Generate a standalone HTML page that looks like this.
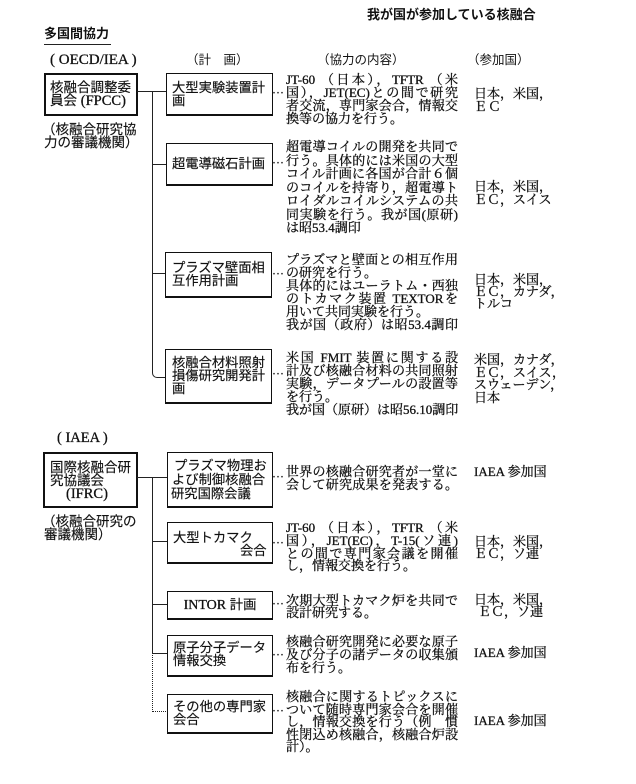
<!DOCTYPE html>
<html lang="ja">
<head>
<meta charset="utf-8">
<style>
html,body{margin:0;padding:0;background:#fff;}
body{width:636px;height:784px;position:relative;overflow:hidden;color:#111;}
.a{position:absolute;white-space:nowrap;line-height:14px;}
.s{font-family:"Liberation Sans","Noto Sans CJK JP",sans-serif;}
.m{font-family:"Liberation Serif","Noto Serif CJK SC",serif;-webkit-text-stroke:0.3px #111;}
.b{font-weight:bold;}
.c{left:286px;width:172px;font-size:13px;}
.j{text-align:justify;text-align-last:justify;}
.p{left:474px;font-size:13px;}
.lb{font-size:13.3px;-webkit-text-stroke:0.15px #111;}
.box{position:absolute;border:1px solid #111;border-bottom-width:2px;box-sizing:border-box;}
.tb{position:absolute;border:2px solid #111;box-sizing:border-box;}
.h{position:absolute;height:1px;background:#222;}
.v{position:absolute;width:1px;background:#222;}
.dot{position:absolute;font-family:"Noto Sans CJK JP",sans-serif;font-size:12px;line-height:14px;white-space:nowrap;}
.ls{letter-spacing:1px;}
</style>
</head>
<body>

<!-- Headers -->
<div class="a s b" style="left:44px;top:27px;font-size:13px;">多国間協力</div>
<div class="h" style="left:44px;top:44px;width:67px;"></div>
<div class="a s b" style="left:367px;top:8px;font-size:13px;">我が国が参加している核融合</div>

<div class="a m" style="left:50px;top:53px;font-size:15px;">( OECD/IEA )</div>
<div class="a s" style="left:186px;top:53px;font-size:12.5px;">（計　画）</div>
<div class="a s" style="left:317px;top:53px;font-size:12.5px;">（協力の内容）</div>
<div class="a s" style="left:467px;top:53px;font-size:12.5px;">（参加国）</div>

<!-- FPCC -->
<div class="tb" style="left:44px;top:73px;width:94px;height:43px;"></div>
<div class="a s lb" style="left:50px;top:81px;font-size:13.5px;">核融合調整委</div>
<div class="a s lb" style="left:50px;top:94px;font-size:13.5px;">員会 <span class="m" style="font-size:14.5px;">(FPCC)</span></div>
<div class="a s lb" style="left:42px;top:123px;font-size:13.5px;">（核融合研究協</div>
<div class="a s lb" style="left:44px;top:136px;font-size:13.5px;">力の審議機関）</div>

<!-- top connectors -->
<div class="h" style="left:137px;top:91px;width:29px;"></div>
<div style="position:absolute;left:152px;top:91px;width:13px;height:286px;border-left:1px solid #222;border-bottom:1px solid #222;border-bottom-left-radius:5px;"></div>
<div class="h" style="left:152px;top:164px;width:14px;"></div>
<div class="h" style="left:152px;top:273px;width:14px;"></div>

<!-- top boxes -->
<div class="box" style="left:166px;top:73px;width:107px;height:43px;"></div>
<div class="a s lb" style="left:172px;top:81px;">大型実験装置計</div>
<div class="a s lb" style="left:172px;top:94px;">画</div>

<div class="box" style="left:166px;top:143px;width:107px;height:43px;"></div>
<div class="a s lb" style="left:172px;top:157px;">超電導磁石計画</div>

<div class="box" style="left:165px;top:252px;width:107px;height:46px;"></div>
<div class="a s lb" style="left:172px;top:261px;">プラズマ壁面相</div>
<div class="a s lb" style="left:172px;top:274px;">互作用計画</div>

<div class="box" style="left:165px;top:349px;width:107px;height:55px;"></div>
<div class="a s lb" style="left:172px;top:356px;">核融合材料照射</div>
<div class="a s lb" style="left:172px;top:369px;">損傷研究開発計</div>
<div class="a s lb" style="left:172px;top:382px;">画</div>

<!-- top leaders -->
<div class="dot" style="left:272px;top:86px;">…</div>
<div class="dot" style="left:272px;top:156px;">…</div>
<div class="dot" style="left:272px;top:267px;">…</div>
<div class="dot" style="left:272px;top:367px;">…</div>

<!-- top content -->
<div class="a m c j" style="top:73px;">JT-60 （日本），TFTR （米</div>
<div class="a m c j" style="top:86px;">国），JET(EC)との間で研究</div>
<div class="a m c j" style="top:99px;">者交流，専門家会合，情報交</div>
<div class="a m c" style="top:112px;">換等の協力を行う。</div>

<div class="a m c j" style="top:140px;">超電導コイルの開発を共同で</div>
<div class="a m c j" style="top:153.5px;">行う。具体的には米国の大型</div>
<div class="a m c j" style="top:167px;">コイル計画に各国が合計６個</div>
<div class="a m c j" style="top:180.5px;">のコイルを持寄り，超電導ト</div>
<div class="a m c j" style="top:194px;">ロイダルコイルシステムの共</div>
<div class="a m c j" style="top:207.5px;">同実験を行う。我が国(原研)</div>
<div class="a m c" style="top:221px;">は昭53.4調印</div>

<div class="a m c j" style="top:253px;">プラズマと壁面との相互作用</div>
<div class="a m c" style="top:266px;">の研究を行う。</div>
<div class="a m c j" style="top:279px;">具体的にはユーラトム・西独</div>
<div class="a m c j" style="top:292px;">のトカマク装置 TEXTORを</div>
<div class="a m c" style="top:305px;">用いて共同実験を行う。</div>
<div class="a m c j" style="top:318px;">我が国（政府）は昭53.4調印</div>

<div class="a m c j" style="top:351px;">米国 FMIT 装置に関する設</div>
<div class="a m c j" style="top:364px;">計及び核融合材料の共同照射</div>
<div class="a m c j" style="top:377px;">実験，データプールの設置等</div>
<div class="a m c" style="top:390px;">を行う。</div>
<div class="a m c j" style="top:403px;">我が国（原研）は昭56.10調印</div>

<!-- top participants -->
<div class="a m p" style="top:87px;">日本，米国，</div>
<div class="a m p ls" style="top:100px;">ＥＣ</div>

<div class="a m p" style="top:180px;">日本，米国，</div>
<div class="a m p" style="top:193px;">ＥＣ，スイス</div>

<div class="a m p" style="top:273px;">日本，米国，</div>
<div class="a m p" style="top:285px;">ＥＣ，カナダ，</div>
<div class="a m p" style="top:297px;">トルコ</div>

<div class="a m p" style="top:353px;">米国，カナダ，</div>
<div class="a m p" style="top:366px;">ＥＣ，スイス，</div>
<div class="a m p" style="top:378px;">スウェーデン，</div>
<div class="a m p" style="top:391px;">日本</div>

<!-- IAEA section -->
<div class="a m" style="left:57px;top:431px;font-size:14.5px;">( IAEA )</div>

<div class="tb" style="left:43px;top:452px;width:95px;height:56px;"></div>
<div class="a s lb" style="left:50px;top:461px;font-size:13.5px;">国際核融合研</div>
<div class="a s lb" style="left:50px;top:474px;font-size:13.5px;">究協議会</div>
<div class="a m" style="left:66px;top:487px;font-size:14.5px;">(IFRC)</div>
<div class="a s lb" style="left:42px;top:515px;font-size:13.5px;">（核融合研究の</div>
<div class="a s lb" style="left:44px;top:528px;font-size:13.5px;">審議機関）</div>

<!-- lower connectors -->
<div class="h" style="left:137px;top:477px;width:30px;"></div>
<div class="v" style="left:152px;top:477px;height:176px;"></div>
<div class="h" style="left:152px;top:541px;width:15px;"></div>
<div class="h" style="left:152px;top:604px;width:15px;"></div>
<div class="h" style="left:152px;top:653px;width:15px;"></div>
<div style="position:absolute;left:152px;top:653px;width:15px;height:58px;border-left:1px dotted #222;border-bottom:1px dotted #222;"></div>

<!-- lower boxes -->
<div class="box" style="left:167px;top:452px;width:106px;height:56px;"></div>
<div class="a s lb" style="left:174px;top:459px;">プラズマ物理お</div>
<div class="a s lb" style="left:172px;top:473px;">よび制御核融合</div>
<div class="a s lb" style="left:171px;top:487px;">研究国際会議</div>

<div class="box" style="left:167px;top:522px;width:106px;height:42px;"></div>
<div class="a s lb" style="left:173px;top:531px;">大型トカマク</div>
<div class="a s lb" style="left:240px;top:544px;">会合</div>

<div class="box" style="left:167px;top:591px;width:106px;height:29px;"></div>
<div class="a s lb" style="left:167px;top:598px;width:106px;text-align:center;"><span class="m" style="font-size:14px;">INTOR</span> 計画</div>

<div class="box" style="left:167px;top:635px;width:106px;height:42px;"></div>
<div class="a s lb" style="left:173px;top:641px;">原子分子データ</div>
<div class="a s lb" style="left:173px;top:654px;">情報交換</div>

<div class="box" style="left:167px;top:694px;width:106px;height:40px;"></div>
<div class="a s lb" style="left:173px;top:700px;">その他の専門家</div>
<div class="a s lb" style="left:173px;top:713px;">会合</div>

<!-- lower leaders -->
<div class="dot" style="left:272px;top:470px;">…</div>
<div class="dot" style="left:272px;top:536px;">…</div>
<div class="dot" style="left:272px;top:597px;">…</div>
<div class="dot" style="left:272px;top:648px;">…</div>
<div class="dot" style="left:272px;top:704px;">…</div>

<!-- lower content -->
<div class="a m c j" style="top:465px;">世界の核融合研究者が一堂に</div>
<div class="a m c j" style="top:478px;">会して研究成果を発表する。</div>

<div class="a m c j" style="top:521px;">JT-60 （日本），TFTR （米</div>
<div class="a m c j" style="top:534px;">国），JET(EC)，T-15(ソ連)</div>
<div class="a m c j" style="top:546.5px;">との間で専門家会議を開催</div>
<div class="a m c" style="top:559px;">し，情報交換を行う。</div>

<div class="a m c j" style="top:594px;">次期大型トカマク炉を共同で</div>
<div class="a m c" style="top:606px;">設計研究する。</div>

<div class="a m c j" style="top:635px;">核融合研究開発に必要な原子</div>
<div class="a m c j" style="top:648px;">及び分子の諸データの収集頒</div>
<div class="a m c" style="top:661px;">布を行う。</div>

<div class="a m c j" style="top:690px;">核融合に関するトピックスに</div>
<div class="a m c j" style="top:702.5px;">ついて随時専門家会合を開催</div>
<div class="a m c j" style="top:715px;">し，情報交換を行う（例　慣</div>
<div class="a m c j" style="top:727.5px;">性閉込め核融合，核融合炉設</div>
<div class="a m c" style="top:740px;">計）。</div>

<!-- lower participants -->
<div class="a m p" style="top:465px;">IAEA 参加国</div>
<div class="a m p" style="top:535px;">日本，米国，</div>
<div class="a m p" style="top:547px;">ＥＣ，ソ連</div>
<div class="a m p" style="top:593px;">日本，米国，</div>
<div class="a m p" style="top:605px;left:478px;">ＥＣ，ソ連</div>
<div class="a m p" style="top:646px;">IAEA 参加国</div>
<div class="a m p" style="top:714px;">IAEA 参加国</div>

</body>
</html>
